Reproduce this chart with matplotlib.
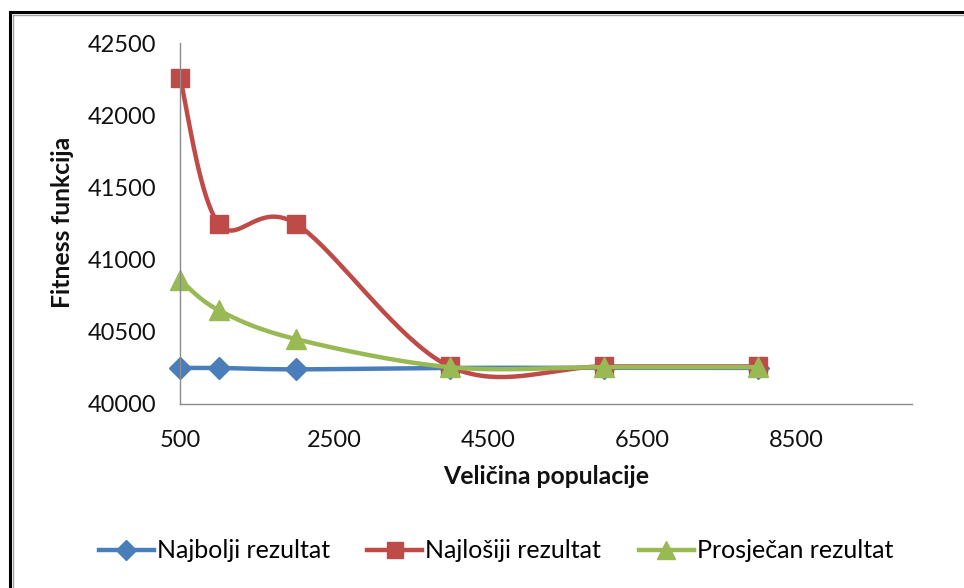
import numpy as np
import matplotlib
matplotlib.use("Agg")
import matplotlib.pyplot as plt
from matplotlib.lines import Line2D

plt.rcParams['font.family'] = ['Lato', 'DejaVu Sans']

# Data
x_pop = [500, 1000, 2000, 4000, 6000, 8000]
najbolji = [40250, 40250, 40240, 40250, 40250, 40250]
najlosiji = [42260, 41250, 41250, 40260, 40260, 40260]
prosjecan = [40860, 40650, 40450, 40255, 40255, 40255]
labels = ['Najbolji rezultat', 'Najlošiji rezultat', 'Prosječan rezultat']
colors = ['#4A7EBB', '#BE4B48', '#98B954']
markers = ['D', 's', '^']
msizes = [11.5, 13, 14]
xticks = [500, 2500, 4500, 6500, 8500]
yticks = [40000, 40500, 41000, 41500, 42000, 42500]


def smooth(xs, ys, n=40):
    """Excel-like smoothed line (Catmull-Rom Bezier through the points)."""
    P = np.column_stack([xs, ys]).astype(float)
    out = []
    for i in range(len(P) - 1):
        p0 = P[i - 1] if i > 0 else P[i]
        p1 = P[i]
        p2 = P[i + 1]
        p3 = P[i + 2] if i + 2 < len(P) else P[i + 1]
        c1 = p1 + (p2 - p0) / 6.0
        c2 = p2 - (p3 - p1) / 6.0
        t = np.linspace(0, 1, n)[:, None]
        seg = ((1 - t) ** 3) * p1 + 3 * ((1 - t) ** 2) * t * c1 + 3 * (1 - t) * t ** 2 * c2 + t ** 3 * p2
        out.append(seg if i == 0 else seg[1:])
    arr = np.vstack(out)
    return arr[:, 0], arr[:, 1]


fig = plt.figure(figsize=(9.64, 5.88), dpi=100)
ax = fig.add_axes([180 / 964, 1 - 404 / 588, (912 - 180) / 964, (404 - 43) / 588])

handles = []
for ys, lab, c, m, ms in zip([najbolji, najlosiji, prosjecan], labels, colors, markers, msizes):
    sx, sy = smooth(x_pop, ys)
    ax.plot(sx, sy, color=c, lw=3.2, solid_capstyle='round', clip_on=False)
    ax.plot(x_pop, ys, linestyle='none', marker=m, color=c, markersize=ms,
            markeredgecolor=c, clip_on=False)
    handles.append(Line2D([0], [0], color=c, lw=3.2, marker=m, markersize=ms - 1,
                          markeredgecolor=c))

ax.set_xlim(500, 10000)
ax.set_ylim(40000, 42500)
ax.set_xticks(xticks)
ax.set_yticks(yticks)
ax.set_xticklabels([str(v) for v in xticks])
ax.set_yticklabels([str(v) for v in yticks])
ax.tick_params(axis='both', length=0, labelsize=17, colors='#111111')
ax.tick_params(axis='y', pad=17)
ax.tick_params(axis='x', pad=19)
for s in ['top', 'right']:
    ax.spines[s].set_visible(False)
for s in ['left', 'bottom']:
    ax.spines[s].set_color('#8C8C8C')
    ax.spines[s].set_linewidth(1.0)

fig.text(546 / 964, 1 - 477 / 588, 'Veličina populacije', ha='center', va='center',
         fontsize=17.8, fontweight='bold', color='#111111')
fig.text(63 / 964, 1 - 222 / 588, 'Fitness funkcija', ha='center', va='center',
         rotation=90, fontsize=17.8, fontweight='bold', color='#111111')

fig.legend(handles, labels, loc='center', bbox_to_anchor=(496 / 964, 1 - 551 / 588),
           ncol=3, frameon=False, fontsize=18, handlelength=2.2,
           handletextpad=0.12, columnspacing=1.5)

# outer frame (left and top edges visible)
fig.add_artist(Line2D([10 / 964, 10 / 964], [0, 1 - 12 / 588], color='black', lw=2.2,
                      transform=fig.transFigure))
fig.add_artist(Line2D([10 / 964, 1], [1 - 12 / 588, 1 - 12 / 588], color='black', lw=2.2,
                      transform=fig.transFigure))
fig.add_artist(Line2D([13 / 964, 13 / 964], [0, 1 - 15 / 588], color='#A0A0A0', lw=1.0,
                      transform=fig.transFigure))
fig.add_artist(Line2D([13 / 964, 1], [1 - 15 / 588, 1 - 15 / 588], color='#A0A0A0', lw=1.0,
                      transform=fig.transFigure))

fig.savefig('out.png', dpi=100)
